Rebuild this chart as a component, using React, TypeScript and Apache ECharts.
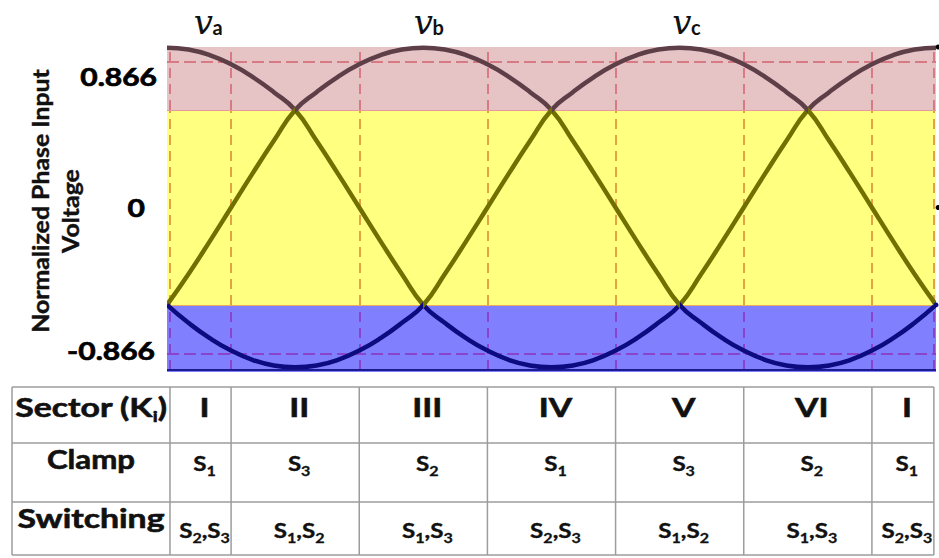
import { useEffect, useRef } from 'react';
import * as echarts from 'echarts';

// Electrical angle (degrees) of each sample
const angles = [0, 10, 20, 30, 40, 50, 60, 70, 80, 90, 100, 110, 120, 130, 140, 150, 160, 170, 180, 190, 200, 210, 220, 230, 240, 250, 260, 270, 280, 290, 300, 310, 320, 330, 340, 350, 360];

// Phase voltages on the plot's normalized scale
const va = [0.948, 0.937, 0.904, 0.849, 0.775, 0.684, 0.578, 0.396, 0.201, 0, -0.201, -0.396, -0.578, -0.684, -0.775, -0.849, -0.904, -0.937, -0.948, -0.937, -0.904, -0.849, -0.775, -0.684, -0.578, -0.396, -0.201, 0, 0.201, 0.396, 0.578, 0.684, 0.775, 0.849, 0.904, 0.937, 0.948];
const vb = [-0.578, -0.396, -0.201, 0, 0.201, 0.396, 0.578, 0.684, 0.775, 0.849, 0.904, 0.937, 0.948, 0.937, 0.904, 0.849, 0.775, 0.684, 0.578, 0.396, 0.201, 0, -0.201, -0.396, -0.578, -0.684, -0.775, -0.849, -0.904, -0.937, -0.948, -0.937, -0.904, -0.849, -0.775, -0.684, -0.578];
const vc = [-0.578, -0.684, -0.775, -0.849, -0.904, -0.937, -0.948, -0.937, -0.904, -0.849, -0.775, -0.684, -0.578, -0.396, -0.201, 0, 0.201, 0.396, 0.578, 0.684, 0.775, 0.849, 0.904, 0.937, 0.948, 0.937, 0.904, 0.849, 0.775, 0.684, 0.578, 0.396, 0.201, 0, -0.201, -0.396, -0.578];
const phaseNames = ['a', 'b', 'c'];
const phaseLabelAngles = [18, 121, 242];

// Level where two phases cross (limit of the max / mid / min bands)
const crossingLevel = 0.578;
// Level marked by the dashed guides
const boundaryLevel = 0.866;

// Sector boundaries (degrees) and table contents
const sectorBounds = [1.4, 30, 90, 150, 210, 270, 330, 359];
const sectorNames = ['I', 'II', 'III', 'IV', 'V', 'VI', 'I'];
const clampSwitch = ['1', '3', '2', '1', '3', '2', '1'];
const switchingPairs = [['2', '3'], ['1', '2'], ['1', '3'], ['2', '3'], ['1', '2'], ['1', '3'], ['2', '3']];

// Y tick labels
const yTickValues = [0.866, 0, -0.866];
const yTickTexts = ['0.866', '0', '-0.866'];
const yAxisTitle = ['Normalized Phase Input', 'Voltage'];

const Y_MIN = -0.976;
const Y_MAX = 0.952;
const BOTTOM_LINE = -0.964;

const RANK_COLORS: Record<string, string> = { max: '#5e3f48', mid: '#716f00', min: '#0c0c80' };
const BAND = { pink: '#e6c4c6', yellow: '#ffff80', blue: '#8080ff' };
const DASH = { pink: '#d77a84', yellow: '#e4a244', blue: '#8a44cc' };
const SANS = 'Lato, "Open Sans", sans-serif';
const SERIF = '"DejaVu Serif", "Liberation Serif", serif';
const INK = '#111';

// Color pieces along x: each phase is colored by its rank (max / mid / min)
function rankPieces(k: number) {
  const all = [va, vb, vc];
  const runs: { gte: number; lte: number; rank: string }[] = [];
  for (let i = 0; i < angles.length - 1; i++) {
    const mids = all.map((s) => (s[i] + s[i + 1]) / 2);
    const hi = Math.max(...mids);
    const lo = Math.min(...mids);
    const rank = mids[k] === hi ? 'max' : mids[k] === lo ? 'min' : 'mid';
    const last = runs[runs.length - 1];
    if (last && last.rank === rank) last.lte = angles[i + 1];
    else runs.push({ gte: angles[i], lte: angles[i + 1], rank });
  }
  return runs.map((r, idx) =>
    idx === runs.length - 1
      ? { gte: r.gte, lte: r.lte, color: RANK_COLORS[r.rank] }
      : { gte: r.gte, lt: r.lte, color: RANK_COLORS[r.rank] }
  );
}

function seg(x1: number, y1: number, x2: number, y2: number, color: string, width: number, type: any) {
  return [
    { coord: [x1, y1], lineStyle: { color, width, type } },
    { coord: [x2, y2] },
  ];
}

export default function App() {
  const ref = useRef<HTMLDivElement>(null);

  useEffect(() => {
    if (!ref.current) return;
    const chart = echarts.init(ref.current, null, { renderer: 'svg' });

    const guideLines: any[] = [];
    const dashType = [10, 6];
    sectorBounds.forEach((b) => {
      guideLines.push(seg(b, crossingLevel, b, Y_MAX, DASH.pink, 2, dashType));
      guideLines.push(seg(b, -crossingLevel, b, crossingLevel, DASH.yellow, 2, dashType));
      guideLines.push(seg(b, BOTTOM_LINE, b, -crossingLevel, DASH.blue, 2, dashType));
    });
    guideLines.push(seg(0, boundaryLevel, 360, boundaryLevel, DASH.pink, 2, [12, 5]));
    guideLines.push(seg(0, -boundaryLevel, 360, -boundaryLevel, DASH.blue, 2, [12, 5]));
    guideLines.push(seg(0, crossingLevel, 360, crossingLevel, '#e49a9c', 1, 'solid'));
    guideLines.push(seg(0, -crossingLevel, 360, -crossingLevel, '#e8aa60', 1, 'solid'));
    guideLines.push(seg(0, Y_MAX, 361, Y_MAX, '#000', 2, 'solid'));
    guideLines.push(seg(0, 0, 361, 0, '#000', 2, 'solid'));
    guideLines.push(seg(0, BOTTOM_LINE, 360, BOTTOM_LINE, '#1c1c90', 2, 'solid'));

    const phases = [va, vb, vc];

    chart.setOption({
      animation: false,
      grid: { left: 167, right: 3, top: 47, bottom: 186 },
      xAxis: { type: 'value', min: 0, max: 360, show: false },
      yAxis: { type: 'value', min: Y_MIN, max: Y_MAX, show: false },
      visualMap: phases.map((_, k) => ({
        type: 'piecewise',
        show: false,
        dimension: 0,
        seriesIndex: k + 2,
        pieces: rankPieces(k),
      })),
      series: [
        {
          type: 'line',
          data: [],
          silent: true,
          markArea: {
            silent: true,
            data: [
              [{ yAxis: crossingLevel, itemStyle: { color: BAND.pink } }, { yAxis: Y_MAX }],
              [{ yAxis: -crossingLevel, itemStyle: { color: BAND.yellow } }, { yAxis: crossingLevel }],
              [{ yAxis: Y_MIN, itemStyle: { color: BAND.blue } }, { yAxis: -crossingLevel }],
            ],
          },
        },
        {
          type: 'line',
          data: [],
          silent: true,
          clip: false,
          markLine: {
            silent: true,
            z: 3,
            symbol: ['none', 'none'],
            label: { show: false },
            data: guideLines,
          },
        },
        ...phases.map((vals, k) => ({
          type: 'line',
          name: 'v' + phaseNames[k],
          smooth: true,
          showSymbol: false,
          clip: false,
          z: 10,
          lineStyle: { width: 4.5 },
          data: angles.map((a, i) => [a, vals[i]]),
        })),
      ],
    });

    const P = (x: number, y: number) => chart.convertToPixel({ gridIndex: 0 }, [x, y]) as number[];
    const g: any[] = [];

    // Line-end dots at the right edge
    const endDots = [
      { y: Y_MAX, color: '#000', x: 361 },
      { y: 0, color: '#000', x: 361 },
      { y: -crossingLevel, color: '#0c0c80', x: 360 },
    ];
    endDots.forEach((d) => {
      const [x, y] = P(d.x, d.y);
      g.push({ type: 'circle', shape: { cx: x, cy: y, r: 2.5 }, style: { fill: d.color }, z: 20 });
    });

    // Y tick labels
    const tickRight = [157, 145, 155];
    const tickShift = [15, 0, -3];
    yTickValues.forEach((v, i) => {
      g.push({
        type: 'text',
        x: tickRight[i],
        y: P(0, v)[1] + tickShift[i],
        scaleX: 1.2,
        style: { text: yTickTexts[i], fontFamily: SANS, fontWeight: 'bold', fontSize: 25, fill: '#000', stroke: '#000', lineWidth: 0.7, align: 'right', verticalAlign: 'middle' },
      });
    });

    // Y axis title (two lines, rotated)
    const titleX = [41, 71];
    const titleY = [201, 211];
    yAxisTitle.forEach((t, i) => {
      g.push({
        type: 'text',
        x: titleX[i],
        y: titleY[i],
        rotation: Math.PI / 2,
        scaleX: 1.13,
        style: { text: t, fontFamily: SANS, fontWeight: 'bold', fontSize: 22, fill: INK, stroke: INK, lineWidth: 0.4, align: 'center', verticalAlign: 'middle' },
      });
    });

    // Phase names above the plot
    phaseLabelAngles.forEach((a, k) => {
      const x = P(a, 0)[0] - 2;
      g.push({
        type: 'text', x, y: 22,
        style: { text: 'v', fontFamily: SERIF, fontStyle: 'italic', fontSize: 34, fill: INK, align: 'center', verticalAlign: 'middle' },
      });
      g.push({
        type: 'text', x: x + 9, y: 27,
        style: { text: phaseNames[k], fontFamily: SANS, fontWeight: 'bold', fontSize: 20, fill: INK, align: 'left', verticalAlign: 'middle' },
      });
    });

    // Envelope names inside the plot
    const envLabels = [
      { sub: 'Pmax', x: 408, y: 74, sy: 82, color: '#5e3f48' },
      { sub: 'mid', x: 648, y: 207, sy: 219, color: '#6f6d00' },
      { sub: 'Nmin', x: 530, y: 319, sy: 330, color: '#10108c' },
    ];
    envLabels.forEach((l) => {
      g.push({
        type: 'text', x: l.x, y: l.y,
        style: { text: 'v', fontFamily: SERIF, fontStyle: 'italic', fontSize: 40, fill: l.color, align: 'center', verticalAlign: 'middle' },
      });
      g.push({
        type: 'text', x: l.x + 10, y: l.sy,
        style: { text: l.sub, fontFamily: SANS, fontWeight: 'bold', fontSize: 22, fill: l.color, align: 'left', verticalAlign: 'middle' },
      });
    });

    // Sector table
    const colX = [12, ...sectorBounds.map((b) => P(b, 0)[0])];
    const rowY = [387, 443, 502, 555];
    const gridColor = '#9c9c9c';
    rowY.forEach((y) => {
      g.push({ type: 'line', shape: { x1: colX[0], y1: y, x2: colX[colX.length - 1], y2: y }, style: { stroke: gridColor, lineWidth: 1.5 } });
    });
    colX.forEach((x) => {
      g.push({ type: 'line', shape: { x1: x, y1: rowY[0], x2: x, y2: rowY[3] }, style: { stroke: gridColor, lineWidth: 1.5 } });
    });

    const headY = [407, 459, 518];
    const cellY = [407, 463, 530];
    const firstColX = (colX[0] + colX[1]) / 2;
    const heavy = { fontFamily: SANS, fontWeight: 'bold', fill: INK, stroke: INK, lineWidth: 0.6 };
    const rich = {
      b: { ...heavy, fontSize: 26, lineHeight: 26 },
      bs: { ...heavy, fontSize: 15, lineHeight: 34, verticalAlign: 'bottom' },
      s: { ...heavy, fontSize: 21, lineHeight: 22, lineWidth: 0.4 },
      ss: { ...heavy, fontSize: 14, lineHeight: 28, verticalAlign: 'bottom', lineWidth: 0.3 },
    };
    const rowHeads = ['{b|Sector (K}{bs|i}{b|)}', '{b|Clamp}', '{b|Switching}'];
    const headScale = [1.3, 1.2, 1.3];
    rowHeads.forEach((t, r) => {
      g.push({
        type: 'text', x: firstColX, y: headY[r], scaleX: headScale[r],
        style: { text: t, rich, align: 'center', verticalAlign: 'middle' },
      });
    });
    sectorNames.forEach((name, c) => {
      const cx = (colX[c + 1] + colX[c + 2]) / 2 + 4;
      g.push({
        type: 'text', x: cx, y: cellY[0], scaleX: 1.3,
        style: { text: name, ...heavy, fontSize: 26, align: 'center', verticalAlign: 'middle' },
      });
      g.push({
        type: 'text', x: cx, y: cellY[1], scaleX: 1.15,
        style: { text: `{s|S}{ss|${clampSwitch[c]}}`, rich, align: 'center', verticalAlign: 'middle' },
      });
      const [p, q] = switchingPairs[c];
      g.push({
        type: 'text', x: cx, y: cellY[2], scaleX: 1.15,
        style: { text: `{s|S}{ss|${p}}{s|,S}{ss|${q}}`, rich, align: 'center', verticalAlign: 'middle' },
      });
    });

    chart.setOption({ graphic: g });

    return () => chart.dispose();
  }, []);

  return <div ref={ref} style={{ position: 'fixed', left: 0, top: 0, width: 939, height: 558, background: '#fff' }} />;
}
